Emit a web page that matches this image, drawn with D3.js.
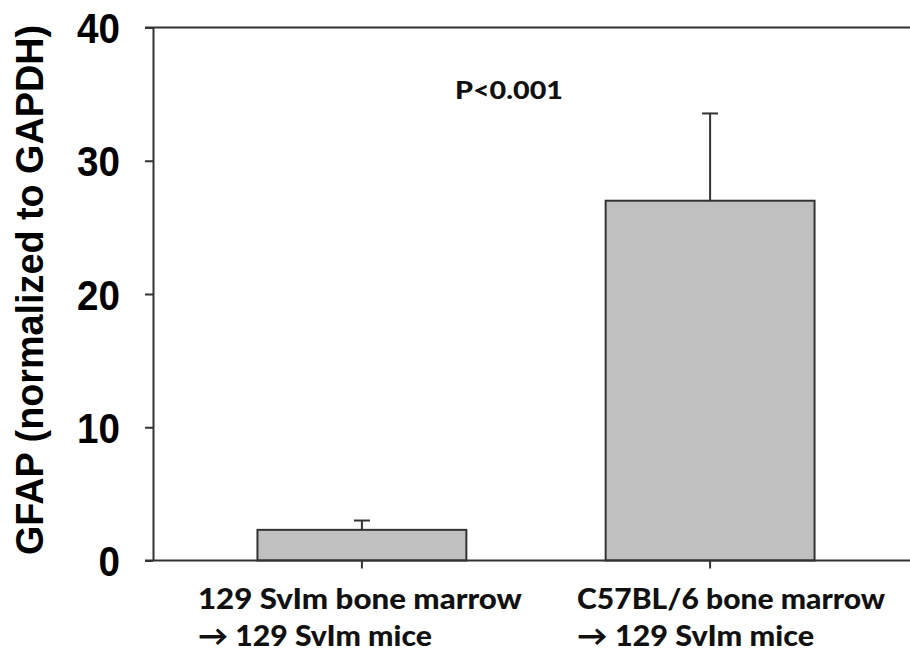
<!DOCTYPE html>
<html><head><meta charset="utf-8">
<script src="https://cdn.jsdelivr.net/npm/d3@7"></script>
<style>body{margin:0;background:#fff} svg{display:block}</style>
</head><body><svg id="c" width="910" height="654"></svg>
<script>
// ---- data ----
const categories = ["129 SvIm", "C57BL/6"];
const labelLine1 = ["129 SvIm bone marrow", "C57BL/6 bone marrow"];
const labelLine2 = ["\u2192 129 SvIm mice", "\u2192 129 SvIm mice"];
const means = [2.3, 27.0];
const errors = [0.7, 6.55];
const yTicks = [0, 10, 20, 30, 40];
const yTitle = "GFAP (normalized to GAPDH)";
const annotation = "P<0.001";
const annotationValue = 34.6;

// ---- layout ----
const svg = d3.select("#c");
const axisColor = "#333";
const y = d3.scaleLinear().domain([0, 40]).range([560.5, 27.5]);
const x = d3.scaleBand().domain(categories).range([153, 919]).paddingInner(0.4).paddingOuter(0.3);

// top frame line
svg.append("line").attr("x1", 145).attr("x2", 910).attr("y1", y(40)).attr("y2", y(40))
  .attr("stroke", axisColor).attr("stroke-width", 2);

// bars
svg.selectAll("rect.bar").data(categories).join("rect")
  .attr("class", "bar")
  .attr("x", d => x(d)).attr("width", x.bandwidth())
  .attr("y", (d, i) => y(means[i])).attr("height", (d, i) => y(0) - y(means[i]))
  .attr("fill", "#c0c0c0").attr("stroke", axisColor).attr("stroke-width", 2);

// error bars
const eb = svg.selectAll("g.err").data(categories).join("g").attr("class", "err")
  .attr("stroke", axisColor).attr("stroke-width", 2);
eb.append("line")
  .attr("x1", d => x(d) + x.bandwidth() / 2).attr("x2", d => x(d) + x.bandwidth() / 2)
  .attr("y1", (d, i) => y(means[i])).attr("y2", (d, i) => y(means[i] + errors[i]));
eb.append("line")
  .attr("x1", d => x(d) + x.bandwidth() / 2 - 8).attr("x2", d => x(d) + x.bandwidth() / 2 + 8)
  .attr("y1", (d, i) => y(means[i] + errors[i])).attr("y2", (d, i) => y(means[i] + errors[i]));

// y axis
const gy = svg.append("g").attr("transform", "translate(153,0)")
  .call(d3.axisLeft(y).tickValues(yTicks).tickSize(8).tickPadding(25).tickSizeOuter(0));
gy.select(".domain").attr("stroke", axisColor).attr("stroke-width", 2);
gy.selectAll(".tick line").attr("stroke", axisColor).attr("stroke-width", 2);
gy.selectAll(".tick text").attr("fill", "#000")
  .style("font-family", "'Liberation Sans', Arial, sans-serif").style("font-weight", "bold").style("font-size", "42px")
  .attr("dy", "0.36em")
  .attr("textLength", function() { return this.textContent.length * 21.5; })
  .attr("lengthAdjust", "spacingAndGlyphs");

// x axis
const gx = svg.append("g").attr("transform", `translate(0,${y(0)})`)
  .call(d3.axisBottom(x).tickSize(8).tickSizeOuter(0).tickFormat(""));
gx.select(".domain").attr("d", "M145,0H910").attr("stroke", axisColor).attr("stroke-width", 2);
gx.selectAll(".tick line").attr("stroke", axisColor).attr("stroke-width", 2);

// x labels
const labelStartOffset = [-164, -133];
const line1Len = [324, 308];
const line2Len = [234, 237];
categories.forEach((c, i) => {
  const cx = x(c) + x.bandwidth() / 2 + labelStartOffset[i];
  svg.append("text").attr("x", cx).attr("y", 609)
    .style("font-family", "Lato, 'Open Sans', sans-serif").style("font-weight", "900").style("font-size", "28px")
    .attr("fill", "#111").attr("textLength", line1Len[i]).attr("lengthAdjust", "spacingAndGlyphs")
    .text(labelLine1[i]);
  svg.append("text").attr("x", cx).attr("y", 646)
    .style("font-family", "Lato, 'Open Sans', sans-serif").style("font-weight", "900").style("font-size", "28px")
    .attr("fill", "#111").attr("textLength", line2Len[i]).attr("lengthAdjust", "spacingAndGlyphs")
    .text(labelLine2[i]);
});

// y title
svg.append("text").attr("transform", `translate(43,${(555 + 25) / 2}) rotate(-90)`)
  .attr("text-anchor", "middle")
  .style("font-family", "'Liberation Sans', Arial, sans-serif").style("font-weight", "bold").style("font-size", "39px")
  .attr("fill", "#000").attr("textLength", 530).attr("lengthAdjust", "spacingAndGlyphs")
  .text(yTitle);

// annotation
svg.append("text").attr("x", 455).attr("y", y(annotationValue))
  .style("font-family", "Lato, 'Open Sans', sans-serif").style("font-weight", "900").style("font-size", "25px")
  .attr("fill", "#111").attr("textLength", 108).attr("lengthAdjust", "spacingAndGlyphs")
  .text(annotation);
</script></body></html>
